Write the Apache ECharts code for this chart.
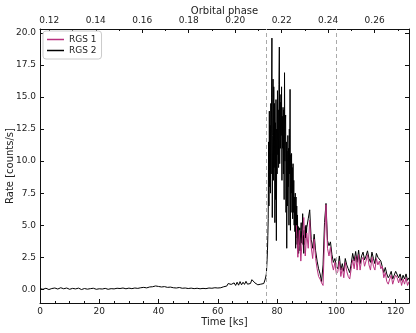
<!DOCTYPE html>
<html>
<head>
<meta charset="utf-8">
<script src="https://cdn.jsdelivr.net/npm/echarts@6/dist/echarts.min.js"></script>
<style>
  html, body { margin: 0; padding: 0; background: #fff; }
  #chart { width: 416px; height: 333px; }
</style>
</head>
<body>
<div id="chart"></div>
<script>
// time axis (ks) and orbital phase axis extents
var tMin = 0, tMax = 124.5
var phaseMin = 0.1160, phaseMax = 0.2748
var yMin = -1.07, yMax = 20.31

var timeTicks = [0, 20, 40, 60, 80, 100, 120]
var timeMinor = [5, 10, 15, 25, 30, 35, 45, 50, 55, 65, 70, 75, 85, 90, 95, 105, 110, 115]
var phaseTicks = [0.12, 0.14, 0.16, 0.18, 0.20, 0.22, 0.24, 0.26]
var phaseMinor = [0.13, 0.15, 0.17, 0.19, 0.21, 0.23, 0.25, 0.27]
var rateTicks = [0, 2.5, 5, 7.5, 10, 12.5, 15, 17.5, 20]
var markTimes = [76.4, 100]

// RGS 2, 0 - 60 ks, 1 ks bins
var rgs2Quiet = [0.05,0.0,0.08,-0.02,0.06,0.1,0.02,0.12,0.04,0.1,
    0.0,0.07,0.03,0.09,-0.02,0.06,0.01,0.05,0.08,0.0,
    0.04,0.02,0.07,0.0,0.05,0.03,0.08,0.06,0.1,0.04,
    0.09,0.05,0.1,0.07,0.12,0.15,0.11,0.18,0.2,0.26,
    0.22,0.18,0.21,0.15,0.17,0.12,0.1,0.14,0.08,0.1,
    0.06,0.09,0.05,0.08,0.04,0.07,0.05,0.1,0.08,0.12,
    0.1]
// RGS 2, 60.5 - 76 ks, 0.5 ks bins
var rgs2Rise = [0.15,0.12,0.18,0.2,0.3,0.25,0.45,0.3,0.38,0.28,
    0.5,0.3,0.55,0.32,0.6,0.35,0.55,0.38,0.62,0.4,
    0.5,0.45,0.75,0.6,0.5,0.4,0.35,0.45,0.4,0.5,
    0.45,0.8]
// RGS 2, 76.25 - 90 ks, 0.125 ks bins (flare)
var rgs2Flare = [0.9,1.2,1.8,2.3,3.0,4.2,5.5,11.5,
    6.5,13.9,8.0,12.8,7.5,14.5,9.0,15.0,
    19.6,5.6,12.0,16.4,8.5,15.8,9.5,14.5,
    5.2,13.0,7.0,14.8,3.8,12.5,9.0,15.5,
    10.5,14.0,9.5,16.0,18.9,9.8,15.2,11.0,
    14.6,12.0,15.8,8.5,13.5,11.0,14.2,9.0,
    14.0,7.0,16.9,10.0,12.5,13.6,6.0,11.5,
    3.2,10.8,6.5,12.0,8.0,11.0,5.0,12.5,
    9.0,15.6,4.6,10.5,7.5,10.6,6.0,9.5,
    5.5,9.8,6.0,8.5,5.0,7.2,4.5,7.5,
    3.2,7.2,4.0,6.5,3.5,5.8,3.0,4.9,
    2.8,4.2,3.5,4.8,3.0,4.0,4.6,5.2,
    3.6,4.5,4.0,5.9,3.5,4.2,2.8,4.6,
    3.5,3.8,4.9,4.0,5.0,4.2,4.8]
// RGS 2, 90.5 - 124.5 ks, 0.5 ks bins
var rgs2Decay = [5.5,6.2,3.9,3.2,4.3,3.0,2.2,1.6,1.2,0.6,
    1.9,5.2,6.7,3.8,3.4,3.7,2.7,2.1,2.4,1.8,
    1.6,2.6,1.5,2.0,1.4,2.4,1.9,1.6,1.3,2.0,
    2.8,2.2,2.95,2.1,3.05,2.0,2.6,2.9,2.3,2.6,
    3.0,2.4,2.1,2.9,2.4,2.0,2.8,2.5,2.6,2.2,
    2.3,1.3,1.7,1.2,0.9,1.1,1.4,0.8,1.1,1.4,
    1.3,0.9,1.2,0.7,1.1,0.8,1.2,0.7,0.9]
// RGS 1, 86.5 - 124.5 ks, 0.5 ks bins
var rgs1Rate = [5.0,2.5,4.6,2.2,4.0,5.6,2.6,4.4,
    3.2,5.4,3.3,2.4,3.9,2.4,1.6,1.0,0.8,0.5,
    0.3,4.0,6.6,3.2,2.6,3.3,2.0,1.5,2.1,1.2,
    1.4,2.2,1.0,1.7,0.9,2.1,1.4,1.0,0.8,1.6,
    2.3,1.6,2.6,1.5,2.7,1.5,2.3,2.5,1.8,2.2,
    2.7,1.9,1.5,2.5,1.8,1.5,2.4,1.9,2.2,1.6,
    1.8,0.9,1.3,0.6,0.4,0.8,1.1,0.4,0.8,1.1,
    0.9,0.5,0.9,0.3,0.8,0.4,0.9,0.3,0.6]

// bins -> [time, rate]
function binned(t0, step, vals) {
    return vals.map(function (v, i) { return [t0 + i * step, v] })
}
var rgs2Data = [].concat(
    binned(0, 1, rgs2Quiet),
    binned(60.5, 0.5, rgs2Rise),
    binned(76.25, 0.125, rgs2Flare),
    binned(90.5, 0.5, rgs2Decay))
var rgs1Data = binned(86.5, 0.5, rgs1Rate)

var font = 'DejaVu Sans'
var axisLine = { onZero: false, lineStyle: { color: '#111', width: 1 } }
var noLine = { show: false, onZero: false }

var chart = echarts.init(document.getElementById('chart'), null, { renderer: 'canvas' })
var option = {
    animation: false,
    backgroundColor: '#fff',
    textStyle: { fontFamily: font },
    grid: { left: 40, right: 7, top: 29, bottom: 30, containLabel: false, outerBoundsMode: 'none' },
    legend: {
        data: ['RGS 1', 'RGS 2'],
        orient: 'vertical',
        left: 43, top: 31,
        icon: 'rect',
        itemWidth: 17, itemHeight: 1.5,
        itemGap: 2,
        padding: [4, 5, 4, 4],
        borderColor: '#ccc', borderWidth: 1, borderRadius: 3,
        backgroundColor: '#fff',
        textStyle: { fontSize: 9, color: '#222', fontFamily: font }
    },
    xAxis: [{
        type: 'value', position: 'bottom', min: tMin, max: tMax,
        axisLine: axisLine,
        axisTick: { inside: true, length: 4, customValues: timeTicks, lineStyle: { color: '#111' } },
        axisLabel: { fontSize: 9, color: '#222', margin: 4, customValues: timeTicks },
        splitLine: { show: false },
        name: 'Time [ks]', nameLocation: 'middle', nameGap: 14, nameMoveOverlap: false,
        nameTextStyle: { fontSize: 10, color: '#222', fontFamily: font }
    }, {
        type: 'value', position: 'bottom', min: tMin, max: tMax,
        axisLine: noLine,
        axisTick: { inside: true, length: 2, customValues: timeMinor, lineStyle: { color: '#111' } },
        axisLabel: { show: false },
        splitLine: { show: false }
    }, {
        type: 'value', position: 'top', min: phaseMin, max: phaseMax,
        axisLine: axisLine,
        axisTick: { inside: true, length: 4, customValues: phaseTicks, lineStyle: { color: '#111' } },
        axisLabel: {
            fontSize: 9, color: '#222', margin: 4, customValues: phaseTicks,
            formatter: function (v) { return v.toFixed(2) }
        },
        splitLine: { show: false },
        name: 'Orbital phase', nameLocation: 'middle', nameGap: 13, nameMoveOverlap: false,
        nameTextStyle: { fontSize: 10, color: '#222', fontFamily: font }
    }, {
        type: 'value', position: 'top', min: phaseMin, max: phaseMax,
        axisLine: noLine,
        axisTick: { inside: true, length: 2, customValues: phaseMinor, lineStyle: { color: '#111' } },
        axisLabel: { show: false },
        splitLine: { show: false }
    }],
    yAxis: [{
        type: 'value', position: 'left', min: yMin, max: yMax,
        axisLine: axisLine,
        axisTick: { show: true, inside: true, length: 4, customValues: rateTicks, lineStyle: { color: '#111' } },
        axisLabel: {
            fontSize: 9, color: '#222', margin: 4, customValues: rateTicks,
            formatter: function (v) { return v.toFixed(1) }
        },
        splitLine: { show: false },
        name: 'Rate [counts/s]', nameLocation: 'middle', nameGap: 25, nameMoveOverlap: false,
        nameTextStyle: { fontSize: 10, color: '#222', fontFamily: font }
    }, {
        type: 'value', position: 'right', min: yMin, max: yMax,
        axisLine: axisLine,
        axisTick: { show: true, inside: true, length: 4, customValues: rateTicks, lineStyle: { color: '#111' } },
        axisLabel: { show: false },
        splitLine: { show: false }
    }],
    series: [{
        name: 'RGS 2', type: 'line', data: rgs2Data,
        xAxisIndex: 0, yAxisIndex: 0,
        symbol: 'none', color: '#000',
        lineStyle: { width: 1, color: '#000', join: 'round' },
        z: 2,
        markLine: {
            silent: true, symbol: 'none',
            label: { show: false },
            lineStyle: { color: '#aaa', type: [4, 3], width: 1 },
            data: markTimes.map(function (t) { return { xAxis: t } })
        }
    }, {
        name: 'RGS 1', type: 'line', data: rgs1Data,
        xAxisIndex: 0, yAxisIndex: 0,
        symbol: 'none', color: '#b8317f',
        lineStyle: { width: 1, color: '#b8317f', join: 'round' },
        z: 3
    }]
}
chart.setOption(option)
</script>
</body>
</html>
